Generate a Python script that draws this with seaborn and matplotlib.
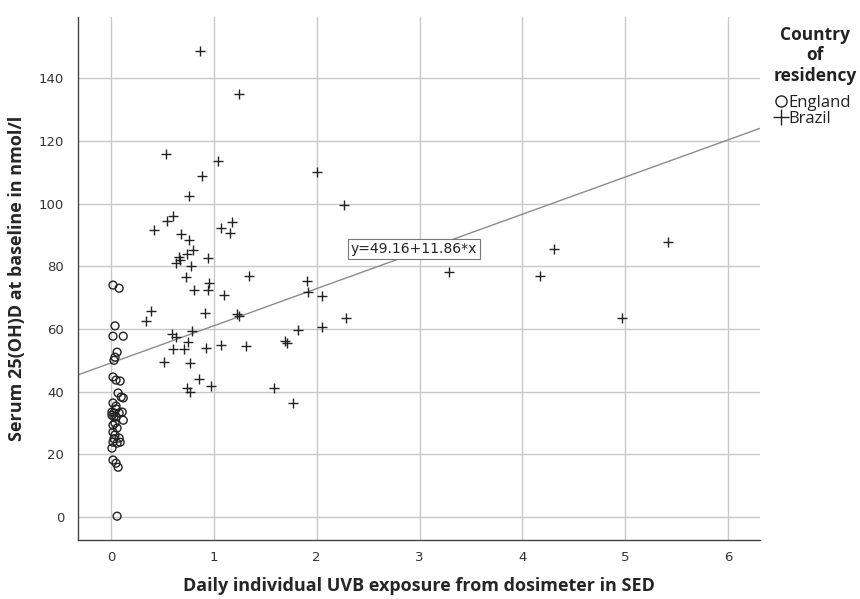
import matplotlib
matplotlib.use("Agg")
import matplotlib.pyplot as plt
import seaborn as sns
from matplotlib.lines import Line2D

# England: circles near zero exposure
eng_x = [0.02, 0.08, 0.04, 0.02, 0.12, 0.06, 0.04, 0.03, 0.02, 0.05, 0.09, 0.07,
         0.10, 0.12, 0.02, 0.05, 0.01, 0.03, 0.08, 0.11, 0.05, 0.12, 0.02, 0.06,
         0.02, 0.04, 0.08, 0.02, 0.06, 0.09, 0.01, 0.02, 0.05, 0.07, 0.06,
         0.03, 0.04, 0.03, 0.05, 0.01]
eng_y = [74.0, 73.0, 61.0, 57.7, 57.7, 52.6, 51.0, 50.0, 44.7, 43.7, 43.4, 39.6,
         38.3, 38.0, 36.4, 35.4, 33.5, 33.2, 33.2, 33.5, 31.9, 30.9, 29.3, 28.4,
         27.1, 26.2, 25.2, 23.9, 23.6, 23.9, 22.0, 18.2, 17.2, 15.9, 0.3,
         32.0, 30.0, 25.0, 34.5, 32.5]

# Brazil: plus markers
bra_x = [0.87, 1.25, 0.54, 1.04, 0.89, 0.76, 2.00, 2.27, 0.60, 0.55, 0.42, 0.68,
         0.76, 0.80, 1.07, 1.18, 1.16, 0.74, 0.66, 0.63, 0.67, 0.94, 0.78, 0.73,
         1.34, 0.95, 0.94, 0.81, 1.10, 1.91, 1.92, 2.05, 2.29, 2.05, 1.82, 0.39,
         0.34, 0.91, 1.23, 1.25, 0.59, 0.63, 0.79, 0.75, 0.60, 0.71, 0.92, 1.07,
         1.31, 1.69, 1.71, 0.52, 0.77, 0.86, 0.97, 0.74, 0.77, 1.59, 1.77,
         3.29, 4.31, 4.17, 5.42, 4.97]
bra_y = [148.6, 135.0, 115.8, 113.6, 108.8, 102.5, 110.0, 99.5, 96.0, 94.4, 91.6, 90.3,
         88.5, 85.3, 92.2, 94.0, 90.5, 84.0, 82.8, 81.0, 82.0, 82.5, 80.2, 76.5,
         76.8, 74.8, 72.4, 72.5, 70.8, 75.2, 71.8, 70.6, 63.4, 60.6, 59.7, 65.8,
         62.4, 65.2, 64.9, 64.0, 58.5, 57.5, 59.2, 56.0, 53.7, 53.6, 53.8, 54.8,
         54.6, 56.3, 55.4, 49.4, 49.0, 44.0, 41.8, 41.3, 40.0, 41.3, 36.4,
         78.2, 85.4, 76.9, 87.8, 63.4]

fit_intercept = 49.16
fit_slope = 11.86

sns.set_style("white")
plt.rcParams["font.family"] = ["DejaVu Sans"]
label_font = ["Open Sans", "DejaVu Sans"]

fig = plt.figure(figsize=(8.6, 5.99), dpi=100)
ax = fig.add_axes([0.0907, 0.0985, 0.7930, 0.8731])

ax.set_axisbelow(True)
ax.grid(True, color="#c8c8c8", linewidth=1.0)

sns.scatterplot(x=eng_x, y=eng_y, ax=ax, marker="o", s=32,
                facecolor="none", edgecolor="#222222", linewidth=1.0, zorder=3)
sns.scatterplot(x=bra_x, y=bra_y, ax=ax, marker="+", s=48,
                color="#222222", linewidth=1.0, zorder=3)

ax.axline((0, fit_intercept), slope=fit_slope, color="#8c8c8c", linewidth=1.0, zorder=2)

ax.text(2.33, 85.5, f"y={fit_intercept:.2f}+{fit_slope:.2f}*x", fontsize=10,
        va="center", ha="left", color="#222222", zorder=4,
        bbox=dict(boxstyle="square,pad=0.2", facecolor="white", edgecolor="#777777", linewidth=0.8))

ax.set_xlim(-0.32, 6.31)
ax.set_ylim(-7.3, 159.5)
ax.set_xticks(range(0, 7))
ax.set_yticks(range(0, 141, 20))
ax.tick_params(axis="x", length=0, labelsize=9.5, labelcolor="#333333", pad=8)
ax.tick_params(axis="y", length=0, labelsize=9.5, labelcolor="#333333", pad=10)

for side in ["top", "right"]:
    ax.spines[side].set_visible(False)
for side in ["left", "bottom"]:
    ax.spines[side].set_color("#444444")
    ax.spines[side].set_linewidth(1.0)

ax.set_xlabel("Daily individual UVB exposure from dosimeter in SED", fontsize=13,
              fontweight="bold", family=label_font, labelpad=9)
ax.set_ylabel("Serum 25(OH)D at baseline in nmol/l", fontsize=13,
              fontweight="bold", family=label_font, labelpad=9)

# legend title drawn separately so the gap to the entries matches
fig.text(0.948, 0.957, "Country\nof\nresidency", ha="center", va="top",
         fontsize=12.5, fontweight="bold", family=label_font, color="#222222",
         linespacing=1.17)

handles = [
    Line2D([], [], marker="o", linestyle="none", markerfacecolor="none",
           markeredgecolor="#222222", markersize=8, markeredgewidth=1.0),
    Line2D([], [], marker="+", linestyle="none", color="#222222",
           markersize=11, markeredgewidth=1.0),
]
leg = fig.legend(handles, ["England", "Brazil"], loc="upper left",
                 bbox_to_anchor=(0.893, 0.855), frameon=False,
                 handlelength=0.6, handletextpad=0.15, labelspacing=0.0,
                 borderpad=0.0, prop={"family": label_font, "size": 12})
for t in leg.get_texts():
    t.set_color("#222222")

fig.savefig("out.png", dpi=100)
